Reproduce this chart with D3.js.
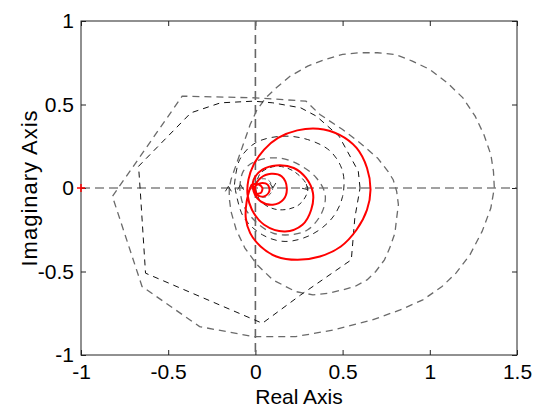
<!DOCTYPE html>
<html>
<head>
<meta charset="utf-8">
<script src="https://cdn.jsdelivr.net/npm/d3@7"></script>
<style>
  body { margin: 0; background: #fff; }
  text { font-family: Arial, "Liberation Sans", Helvetica, sans-serif; }
</style>
</head>
<body>
<div id="chart"></div>
<script>
var svgWidth = 533;
var svgHeight = 410;

// set the dimensions and margins of the graph
var margin = {top: 21, right: 16, bottom: 55, left: 81},
  width = svgWidth - margin.left - margin.right,
  height = svgHeight - margin.top - margin.bottom;

// tick values
var xTicks = [-1, -0.5, 0, 0.5, 1, 1.5];
var yTicks = [-1, -0.5, 0, 0.5, 1];

// dashed curves, [real, imag]
var outerCurve = [
  [-0.15, 0.0], [-0.15, -0.06], [-0.14, -0.14], [-0.11, -0.25], [-0.06, -0.36], [0.01, -0.46],
  [0.1, -0.55], [0.23, -0.62], [0.33, -0.64], [0.42, -0.63], [0.5, -0.61], [0.57, -0.59],
  [0.64, -0.55], [0.69, -0.5], [0.74, -0.43], [0.77, -0.36], [0.8, -0.27], [0.81, -0.18],
  [0.82, -0.1], [0.81, -0.02], [0.79, 0.05], [0.76, 0.1], [0.7, 0.18], [0.6, 0.27],
  [0.5, 0.35], [0.37, 0.44], [0.29, 0.52], [0.0, 0.54], [-0.42, 0.55], [-0.82, -0.05],
  [-0.65, -0.59], [-0.32, -0.83], [-0.01, -0.89], [0.23, -0.89], [0.45, -0.85], [0.67, -0.79],
  [0.83, -0.73], [0.96, -0.67], [1.07, -0.59], [1.15, -0.51], [1.23, -0.4], [1.3, -0.26],
  [1.35, -0.12], [1.37, 0.0], [1.365, 0.1], [1.35, 0.2], [1.31, 0.32], [1.26, 0.43],
  [1.19, 0.54], [1.1, 0.63], [1.0, 0.71], [0.9, 0.76], [0.8, 0.8], [0.7, 0.81],
  [0.6, 0.81], [0.5, 0.8], [0.4, 0.77], [0.3, 0.73], [0.2, 0.67], [0.12, 0.6],
  [0.06, 0.54], [0.01, 0.47], [-0.03, 0.38], [-0.07, 0.26], [-0.11, 0.14], [-0.14, 0.05],
  [-0.15, 0.0]
];

var polyCurve = [
  [0.6, 0.0], [0.59, 0.1], [0.48, 0.31], [0.35, 0.43], [0.26, 0.48], [0.1, 0.51],
  [-0.01, 0.52], [-0.2, 0.51], [-0.37, 0.45], [-0.67, 0.13], [-0.66, -0.02], [-0.63, -0.51],
  [0.04, -0.81], [0.26, -0.64], [0.55, -0.43], [0.57, -0.18], [0.6, 0.0]
];

var midLoop = [
  [-0.12, 0.02], [-0.09, 0.17], [0.0, 0.27], [0.15, 0.31], [0.3, 0.29], [0.43, 0.22],
  [0.5, 0.1], [0.5, -0.05], [0.44, -0.18], [0.32, -0.28], [0.17, -0.32], [0.04, -0.28],
  [-0.07, -0.17], [-0.12, 0.02]
];

var grayLoop = [
  [-0.09, 0.0], [-0.07, 0.1], [0.0, 0.16], [0.13, 0.18], [0.25, 0.14], [0.35, 0.06],
  [0.4, -0.04], [0.38, -0.15], [0.3, -0.25], [0.2, -0.28], [0.1, -0.27], [0.0, -0.2],
  [-0.07, -0.1], [-0.09, 0.0]
];

var smallLoop = [
  [0.0, 0.0], [0.03, 0.09], [0.12, 0.13], [0.22, 0.1], [0.3, 0.0], [0.25, -0.1],
  [0.13, -0.13], [0.03, -0.08], [0.0, 0.0]
];

var tinyLoop = [
  [-0.02, 0.0], [0.02, 0.05], [0.07, 0.05], [0.1, 0.0], [0.07, -0.05], [0.02, -0.05], [-0.02, 0.0]
];

// red solid spiral
var redCurve = [
  [-0.03, 0.0], [-0.05, -0.08], [-0.055, -0.18], [-0.03, -0.27], [0.03, -0.35], [0.12, -0.41],
  [0.24, -0.43], [0.37, -0.41], [0.49, -0.35], [0.58, -0.25], [0.64, -0.13], [0.66, -0.01],
  [0.64, 0.12], [0.58, 0.24], [0.48, 0.32], [0.36, 0.355], [0.24, 0.345], [0.13, 0.3],
  [0.05, 0.23], [-0.01, 0.14], [-0.04, 0.05], [-0.045, -0.04], [-0.02, -0.13], [0.05, -0.22],
  [0.17, -0.26], [0.27, -0.22], [0.32, -0.13], [0.33, -0.03], [0.29, 0.06], [0.22, 0.12],
  [0.12, 0.135], [0.04, 0.11], [-0.01, 0.05], [-0.01, -0.02], [0.03, -0.08], [0.1, -0.1],
  [0.16, -0.07], [0.18, 0.0], [0.15, 0.07], [0.09, 0.085], [0.03, 0.06], [0.0, 0.01],
  [0.01, -0.04], [0.05, -0.05], [0.08, -0.02], [0.07, 0.02], [0.04, 0.03], [0.01, 0.02],
  [-0.01, 0.0], [0.0, -0.03], [0.03, -0.03], [0.04, 0.0], [0.02, 0.02], [-0.02, 0.02],
  [-0.03, -0.01]
];

// small direction arrows on the dashed curves: [real, imag, heading in degrees (screen)]
var arrows = [
  [-0.155, 0.01, -90], [-0.085, 0.02, -90], [0.1, 0.0, 90], [0.3, -0.01, 45]
];

// critical point
var critical = [[-1, 0]];

// Create an SVG wrapper
var svg = d3.select("#chart")
  .append("svg")
  .attr("width", svgWidth)
  .attr("height", svgHeight);

var chartGroup = svg.append("g")
  .attr("transform", `translate(${margin.left}, ${margin.top})`);

var x = d3.scaleLinear().domain([-1, 1.5]).range([0, width]);
var y = d3.scaleLinear().domain([-1, 1]).range([height, 0]);

// frame
chartGroup.append("rect")
  .attr("width", width)
  .attr("height", height)
  .attr("fill", "none")
  .attr("stroke", "#222")
  .attr("stroke-width", 1);

var fmt = d => String(d);

// bottom / left axes with labels, ticks pointing inward
var bottomAxis = d3.axisBottom(x).tickValues(xTicks).tickFormat(fmt).tickSizeInner(-5).tickSizeOuter(0).tickPadding(9);
var leftAxis = d3.axisLeft(y).tickValues(yTicks).tickFormat(fmt).tickSizeInner(-5).tickSizeOuter(0).tickPadding(7);
var topAxis = d3.axisTop(x).tickValues(xTicks).tickFormat("").tickSizeInner(-5).tickSizeOuter(0);
var rightAxis = d3.axisRight(y).tickValues(yTicks).tickFormat("").tickSizeInner(-5).tickSizeOuter(0);

function styleAxis(g) {
  g.select(".domain").remove();
  g.selectAll("line").attr("stroke", "#222");
  g.selectAll("text")
    .attr("fill", "#000")
    .style("font-size", "21px")
    .style("font-family", "Arial, 'Liberation Sans', sans-serif");
}

chartGroup.append("g")
  .attr("transform", `translate(0, ${height})`)
  .call(bottomAxis)
  .call(styleAxis);

chartGroup.append("g")
  .call(leftAxis)
  .call(styleAxis);

chartGroup.append("g")
  .call(topAxis)
  .call(styleAxis);

chartGroup.append("g")
  .attr("transform", `translate(${width}, 0)`)
  .call(rightAxis)
  .call(styleAxis);

// dashed cross through the origin
chartGroup.append("line")
  .attr("x1", 0).attr("x2", width)
  .attr("y1", y(0)).attr("y2", y(0))
  .attr("stroke", "#444")
  .attr("stroke-width", 1.2)
  .attr("stroke-dasharray", "9,5");

chartGroup.append("line")
  .attr("x1", x(0)).attr("x2", x(0))
  .attr("y1", 0).attr("y2", height)
  .attr("stroke", "#666")
  .attr("stroke-width", 1.6)
  .attr("stroke-dasharray", "9,5");

var smooth = d3.line()
  .x(d => x(d[0]))
  .y(d => y(d[1]))
  .curve(d3.curveCatmullRom.alpha(0.5));

var straight = d3.line()
  .x(d => x(d[0]))
  .y(d => y(d[1]));

var curves = chartGroup.append("g").attr("fill", "none");

curves.append("path")
  .attr("d", straight(outerCurve))
  .attr("stroke", "#6a6a6a")
  .attr("stroke-width", 1.3)
  .attr("stroke-dasharray", "7,5");

curves.append("path")
  .attr("d", straight(polyCurve))
  .attr("stroke", "#111")
  .attr("stroke-width", 1)
  .attr("stroke-dasharray", "6,5");

curves.append("path")
  .attr("d", smooth(midLoop))
  .attr("stroke", "#222")
  .attr("stroke-width", 1)
  .attr("stroke-dasharray", "6,5");

curves.append("path")
  .attr("d", smooth(grayLoop))
  .attr("stroke", "#6a6a6a")
  .attr("stroke-width", 1.3)
  .attr("stroke-dasharray", "7,5");

curves.append("path")
  .attr("d", smooth(smallLoop))
  .attr("stroke", "#222")
  .attr("stroke-width", 1)
  .attr("stroke-dasharray", "5,4");

curves.append("path")
  .attr("d", smooth(tinyLoop))
  .attr("stroke", "#6a6a6a")
  .attr("stroke-width", 1)
  .attr("stroke-dasharray", "4,3");

// arrowheads
curves.selectAll(".arrow")
  .data(arrows)
  .enter()
  .append("path")
  .attr("class", "arrow")
  .attr("transform", d => `translate(${x(d[0])},${y(d[1])}) rotate(${d[2]})`)
  .attr("d", "M-5,-3L0,0L-5,3")
  .attr("stroke", "#333")
  .attr("stroke-width", 1);

curves.append("path")
  .attr("d", smooth(redCurve))
  .attr("stroke", "#ff0000")
  .attr("stroke-width", 2);

// red + at the critical point
chartGroup.selectAll(".crit")
  .data(critical)
  .enter()
  .append("path")
  .attr("class", "crit")
  .attr("d", d => `M${x(d[0]) - 4},${y(d[1])}H${x(d[0]) + 4}M${x(d[0])},${y(d[1]) - 4}V${y(d[1]) + 4}`)
  .attr("stroke", "#ff0000")
  .attr("stroke-width", 1.5);

// axis titles
chartGroup.append("text")
  .attr("x", width / 2)
  .attr("y", height + 49)
  .attr("text-anchor", "middle")
  .style("font-size", "21px")
  .text("Real Axis");

chartGroup.append("text")
  .attr("transform", "rotate(-90)")
  .attr("x", 0 - (height / 2))
  .attr("y", 0 - margin.left + 37)
  .attr("text-anchor", "middle")
  .style("font-size", "22px")
  .style("letter-spacing", "1px")
  .text("Imaginary Axis");
</script>
</body>
</html>
